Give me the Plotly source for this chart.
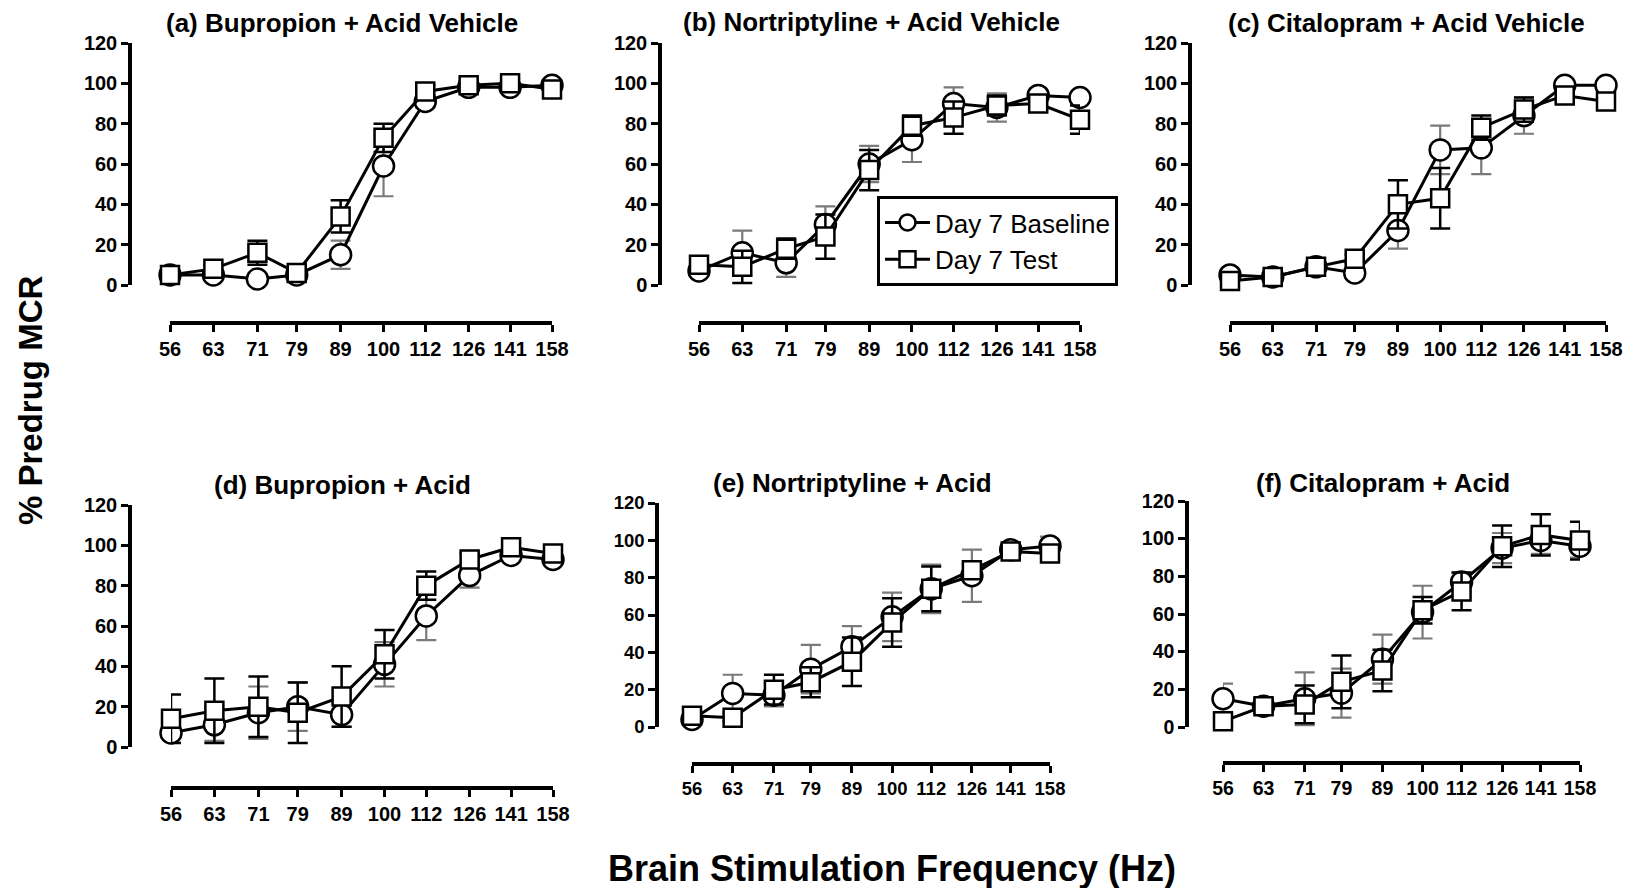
import plotly.graph_objects as go
import math

W, H = 1616, 880   # figure size (page adds 8px body margin -> fills 1632x896)
OFF = 8

freqs = [56, 63, 71, 79, 89, 100, 112, 126, 141, 158]
freq_labels = ["56", "63", "71", "79", "89", "100", "112", "126", "141", "158"]
y_ticks = [0, 20, 40, 60, 80, 100, 120]

panel_titles = ["(a) Bupropion + Acid Vehicle", "(b) Nortriptyline + Acid Vehicle",
                "(c) Citalopram + Acid Vehicle", "(d) Bupropion + Acid",
                "(e) Nortriptyline + Acid", "(f) Citalopram + Acid"]
series_names = ["Day 7 Baseline", "Day 7 Test"]

a_base = [5, 5, 3, 5, 15, 59, 91, 98, 98, 99]
a_base_err = [1, 2, 2, 1, 7, 15, 3, 2, 2, 1]
a_test = [5, 8, 16, 6, 34, 73, 96, 99, 100, 97]
a_test_err = [1, 2, 6, 2, 8, 7, 3, 2, 2, 2]

b_base = [7, 16, 11, 30, 60, 72, 90, 88, 94, 93]
b_base_err = [2, 11, 7, 9, 9, 11, 8, 7, 2, 2]
b_test = [10, 9, 18, 24, 57, 79, 83, 89, 90, 82]
b_test_err = [3, 8, 5, 11, 10, 5, 8, 5, 3, 7]

c_base = [5, 4, 9, 6, 27, 67, 68, 84, 99, 99]
c_base_err = [1, 1, 2, 1, 9, 12, 13, 9, 2, 2]
c_test = [2, 4, 9, 13, 40, 43, 78, 87, 94, 91]
c_test_err = [1, 1, 2, 2, 12, 15, 6, 6, 3, 2]

d_base = [7, 11, 17, 20, 16, 41, 65, 85, 95, 93]
d_base_err = [5, 8, 13, 12, 6, 11, 12, 6, 2, 2]
d_test = [14, 18, 20, 17, 25, 46, 80, 93, 99, 96]
d_test_err = [12, 16, 15, 15, 15, 12, 7, 3, 2, 2]

e_base = [4, 18, 17, 31, 43, 59, 74, 81, 95, 97]
e_base_err = [2, 10, 6, 13, 11, 13, 13, 14, 3, 5]
e_test = [6, 5, 20, 24, 35, 56, 74, 84, 94, 93]
e_test_err = [2, 2, 8, 8, 13, 13, 12, 3, 2, 4]

f_base = [15, 11, 15, 18, 36, 61, 77, 95, 99, 96]
f_base_err = [8, 4, 14, 13, 13, 14, 5, 8, 7, 6]
f_test = [3, 11, 12, 24, 30, 62, 72, 96, 102, 99]
f_test_err = [2, 4, 10, 14, 11, 7, 10, 11, 11, 10]

panels_data = [
    (a_base, a_base_err, a_test, a_test_err),
    (b_base, b_base_err, b_test, b_test_err),
    (c_base, c_base_err, c_test, c_test_err),
    (d_base, d_base_err, d_test, d_test_err),
    (e_base, e_base_err, e_test, e_test_err),
    (f_base, f_base_err, f_test, f_test_err),
]

# geometry in screen pixels
geom = [
    dict(yx=130, x0=170, x1=552, yt=43, yb=285, xy=323, tx=342, ty=23, fs=20),
    dict(yx=660, x0=699, x1=1080, yt=43, yb=285, xy=323, tx=871, ty=22, fs=20),
    dict(yx=1190, x0=1230, x1=1606, yt=43, yb=285, xy=323, tx=1406, ty=23, fs=20),
    dict(yx=130, x0=171, x1=553, yt=505, yb=747, xy=788, tx=342, ty=485, fs=20),
    dict(yx=657, x0=692, x1=1050, yt=503, yb=727, xy=764, tx=852, ty=483, fs=18.5),
    dict(yx=1187, x0=1223, x1=1580, yt=501, yb=727, xy=763, tx=1383, ty=483, fs=19.5),
]


def px(x):
    return (x - OFF) / W


def py(y):
    return 1 - (y - OFF) / H


FONT = "Liberation Sans, Arial, sans-serif"
fig = go.Figure()
annotations = []
layout_axes = {}

for i, (g, (yb_, ybe, yt_, yte)) in enumerate(zip(geom, panels_data)):
    n = i + 1
    xa = "x" if n == 1 else f"x{n}"
    ya = "y" if n == 1 else f"y{n}"
    common = dict(mode="lines+markers", xaxis=xa, yaxis=ya, cliponaxis=False,
                  line=dict(color="black", width=3))
    fig.add_trace(go.Scatter(
        x=freqs, y=yb_, name=series_names[0], legendgroup="base", showlegend=(n == 2),
        error_y=dict(type="data", array=ybe, visible=True, color="#7a7a7a", thickness=2.2, width=10),
        marker=dict(symbol="circle", size=21, color="white", line=dict(color="black", width=2.5)),
        **common))
    fig.add_trace(go.Scatter(
        x=freqs, y=yt_, name=series_names[1], legendgroup="test", showlegend=(n == 2),
        error_y=dict(type="data", array=yte, visible=True, color="black", thickness=2.5, width=10),
        marker=dict(symbol="square", size=18, color="white", line=dict(color="black", width=2.5)),
        **common))

    tickfont = dict(family=FONT, size=g["fs"], color="black", weight="bold")
    xkey = "xaxis" if n == 1 else f"xaxis{n}"
    ykey = "yaxis" if n == 1 else f"yaxis{n}"
    layout_axes[xkey] = dict(
        type="log", range=[math.log10(freqs[0]), math.log10(freqs[-1])],
        domain=[px(g["x0"]), px(g["x1"])], anchor="free", position=py(g["xy"]),
        tickvals=freqs, ticktext=freq_labels, ticks="outside", ticklen=7, tickwidth=3,
        tickcolor="black", showline=True, linecolor="black", linewidth=3.5,
        showgrid=False, zeroline=False, tickfont=tickfont, fixedrange=True, automargin=False)
    layout_axes[ykey] = dict(
        range=[0, 120], domain=[py(g["yb"]), py(g["yt"])],
        anchor="free", position=px(g["yx"]),
        tickvals=y_ticks, ticks="outside", ticklen=7, tickwidth=3, tickcolor="black",
        showline=True, linecolor="black", linewidth=3.5, showgrid=False, zeroline=False,
        tickfont=tickfont, fixedrange=True, automargin=False)
    annotations.append(dict(
        text=panel_titles[i], x=px(g["tx"]), y=py(g["ty"]), xref="paper", yref="paper",
        xanchor="center", yanchor="middle", showarrow=False,
        font=dict(family=FONT, size=26, color="black", weight="bold")))

annotations.append(dict(
    text="Brain Stimulation Frequency (Hz)", x=px(892), y=py(868), xref="paper", yref="paper",
    xanchor="center", yanchor="middle", showarrow=False,
    font=dict(family=FONT, size=36, color="black", weight="bold")))
annotations.append(dict(
    text="% Predrug MCR", x=px(30), y=py(400), xref="paper", yref="paper",
    xanchor="center", yanchor="middle", showarrow=False, textangle=-90,
    font=dict(family=FONT, size=33, color="black", weight="bold")))

fig.update_layout(
    width=W, height=H, margin=dict(l=0, r=0, t=0, b=0, autoexpand=False),
    template="none",
    paper_bgcolor="white", plot_bgcolor="rgba(0,0,0,0)",
    showlegend=True,
    legend=dict(x=px(877), y=py(196), xanchor="left", yanchor="top",
                bordercolor="black", borderwidth=3, bgcolor="white",
                font=dict(family=FONT, size=26, color="black"),
                traceorder="normal", itemwidth=45, tracegroupgap=0),
    annotations=annotations,
    **layout_axes)

fig.write_html("out.html")
